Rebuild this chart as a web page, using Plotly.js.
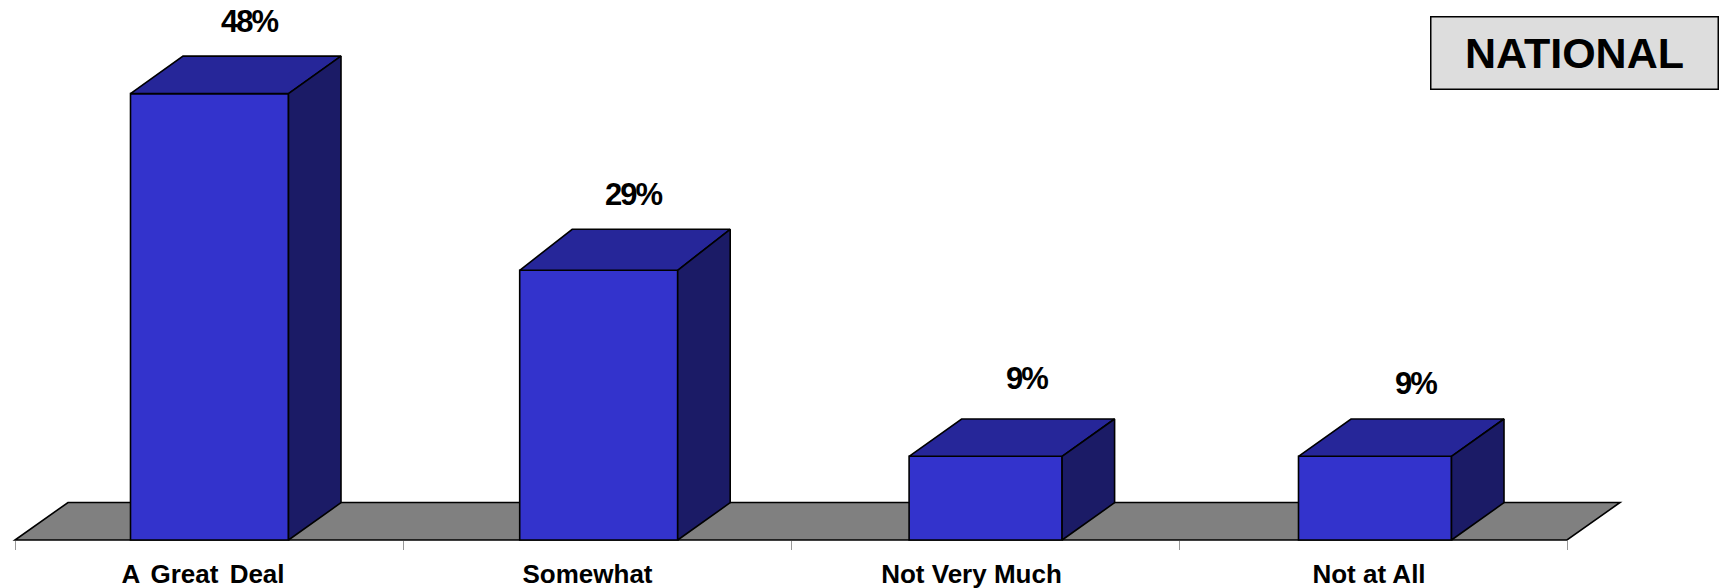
<!DOCTYPE html>
<html><head><meta charset="utf-8">
<script src="https://cdn.plot.ly/plotly-3.0.1.min.js"></script>
<style>
html,body{margin:0;padding:0;background:#fff}
g.annotation:not([data-index="4"]) text{letter-spacing:-2px}
.xtick text[data-unformatted="A Great Deal"]{word-spacing:4px}
</style></head><body><div id="chart" style="width:1720px;height:588px"></div>
<script>
const categories = ["A Great Deal", "Somewhat", "Not Very Much", "Not at All"];
const values = [48, 29, 9, 9];
const valueLabels = ["48%", "29%", "9%", "9%"];
const boxLabel = "NATIONAL";

// Axis geometry
const W = 1720, H = 588, plotLeft = 15, baseY = 540;
const pxPerCat = 388, pxPerPct = 9.3;
const ux = p => p / pxPerCat, uy = p => p / pxPerPct;

// Per-bar drawing styles (pixels)
const barWidths = [158, 158, 153, 153];
const barNudge = [0.5, 1.7, 0.6, 2];
const depthX = 52.5, depthY = [37.5, 41, 37.3, 37.3];
const labelDX = [39.5, 34.5, 40.5, 40];
const labelDY = [72.5, 76, 78, 73];
const catNudge = [-6, -9.5, -13.5, -4];
const FONT = '"Liberation Sans", Arial, sans-serif';
const outline = {color: '#000', width: 1.6};

const pos = categories.map((_, i) => i + ux(barNudge[i]));
const traces = [];
traces.push({type:'bar', x:pos, y:values, width:barWidths.map(ux),
  marker:{color:'#3333CC', line:outline}, hoverinfo:'skip', showlegend:false});
values.forEach((v,i)=>{
  const l = pos[i]-ux(barWidths[i])/2, r = pos[i]+ux(barWidths[i])/2;
  const dx = ux(depthX), dy = uy(depthY[i]);
  traces.push({type:'scatter', mode:'lines', fill:'toself', fillcolor:'#262699', line:outline,
    x:[l, r, r+dx, l+dx, l], y:[v, v, v+dy, v+dy, v], hoverinfo:'skip', showlegend:false});
  traces.push({type:'scatter', mode:'lines', fill:'toself', fillcolor:'#1B1B66', line:outline,
    x:[r, r+dx, r+dx, r, r], y:[0, uy(depthY[2]), v+dy, v, 0], hoverinfo:'skip', showlegend:false});
});

const edges = categories.map((_, i) => i - 0.5).concat([categories.length - 0.5]);
const fdx = ux(53), fdy = uy(37.5);
const floorPath = `M ${edges[0]} 0 L ${edges[4]} 0 L ${edges[4]+fdx} ${fdy} L ${edges[0]+fdx} ${fdy} Z`;

const annotations = values.map((v,i)=>({
  x:pos[i], y:v, xref:'x', yref:'y', text:valueLabels[i], showarrow:false,
  xshift:labelDX[i], yshift:labelDY[i],
  font:{family:FONT, size:31, color:'#000', weight:700}
}));
annotations.push({
  xref:'paper', yref:'paper', x:1574.5/W, y:1-52.8/H, xanchor:'center', yanchor:'middle',
  width:286, height:71, text:boxLabel, showarrow:false, align:'center', valign:'middle',
  bgcolor:'#DDDDDD', bordercolor:'#000', borderwidth:1.5, borderpad:0,
  font:{family:FONT, size:43, color:'#000', weight:700}
});

const layout = {
  width:W, height:H, margin:{l:0,r:0,t:0,b:0,pad:0}, paper_bgcolor:'#fff', plot_bgcolor:'rgba(0,0,0,0)',
  showlegend:false, barmode:'overlay',
  xaxis:{
    range:[-0.5-ux(plotLeft), -0.5+ux(W-plotLeft)], anchor:'free', position:(H-baseY)/H,
    showgrid:false, zeroline:false, showline:false,
    tickmode:'array', tickvals:catNudge.map((n,i)=>i+ux(n)), ticktext:categories, ticks:'',
    tickangle:0, ticklabelstandoff:16,
    tickfont:{family:FONT, size:26, color:'#000', weight:700},
    minor:{tickmode:'array', tickvals:edges, ticks:'outside', ticklen:9, tickwidth:1, tickcolor:'#999', showgrid:false}
  },
  yaxis:{range:[-uy(H-baseY), uy(baseY)], visible:false, showgrid:false, zeroline:false},
  shapes:[{type:'path', xref:'x', yref:'y', path:floorPath, fillcolor:'#808080', line:outline, layer:'below'}],
  annotations:annotations
};
Plotly.newPlot('chart', traces, layout, {displayModeBar:false});
</script></body></html>
